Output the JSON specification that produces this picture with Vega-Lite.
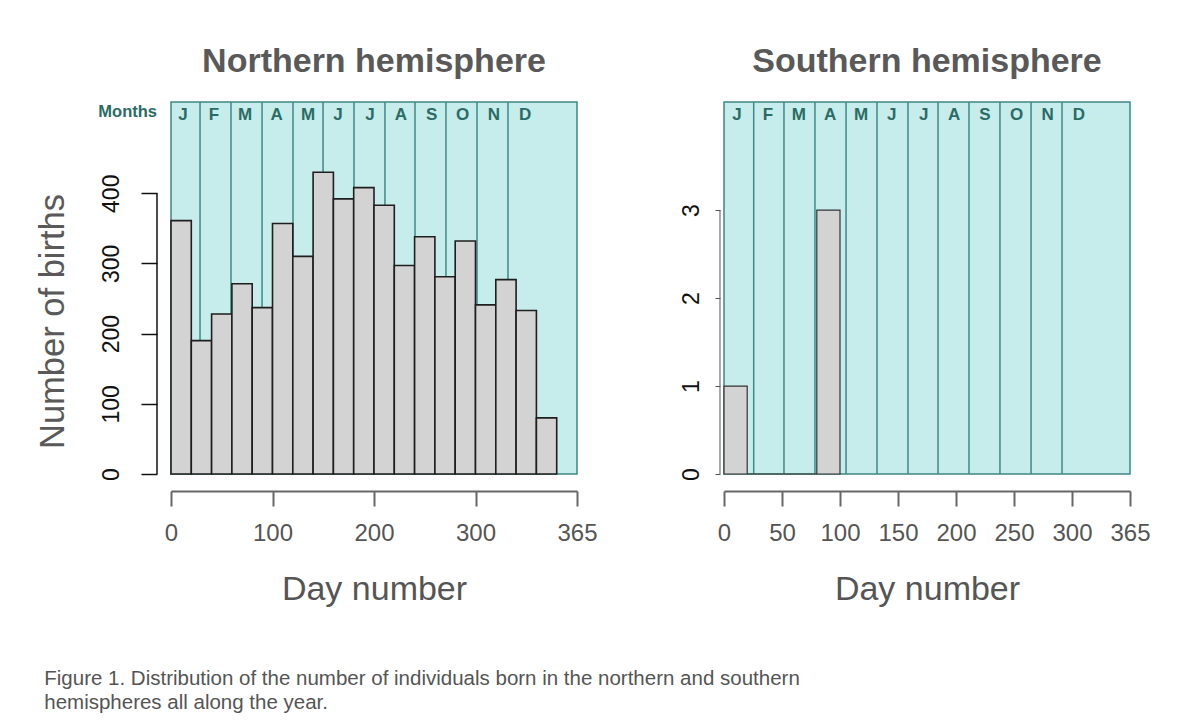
{
  "$schema": "https://vega.github.io/schema/vega-lite/v6.json",
  "background": "white",
  "padding": {"left": 34, "top": 44, "right": 5, "bottom": 5},
  "config": {
    "font": "Liberation Sans",
    "view": {"fill": "#c6eceb", "stroke": "#3f8782", "strokeWidth": 1.5}
  },
  "title": {
    "text": ["Figure 1. Distribution of the number of individuals born in the northern and southern", "hemispheres all along the year."],
    "orient": "bottom",
    "anchor": "start",
    "frame": "bounds",
    "fontSize": 20.5,
    "fontWeight": "normal",
    "color": "#555555",
    "lineHeight": 24,
    "offset": 62,
    "dx": 10
  },
  "datasets": {
    "north": [
      {"start": 0, "end": 20, "count": 361},
      {"start": 20, "end": 40, "count": 190},
      {"start": 40, "end": 60, "count": 228},
      {"start": 60, "end": 80, "count": 271},
      {"start": 80, "end": 100, "count": 237},
      {"start": 100, "end": 120, "count": 357},
      {"start": 120, "end": 140, "count": 310},
      {"start": 140, "end": 160, "count": 430},
      {"start": 160, "end": 180, "count": 392},
      {"start": 180, "end": 200, "count": 408},
      {"start": 200, "end": 220, "count": 383},
      {"start": 220, "end": 240, "count": 297},
      {"start": 240, "end": 260, "count": 338},
      {"start": 260, "end": 280, "count": 281},
      {"start": 280, "end": 300, "count": 332},
      {"start": 300, "end": 320, "count": 241},
      {"start": 320, "end": 340, "count": 277},
      {"start": 340, "end": 360, "count": 233},
      {"start": 360, "end": 380, "count": 80}
    ],
    "south": [
      {"start": 0, "end": 20, "count": 1},
      {"start": 20, "end": 40, "count": 0},
      {"start": 40, "end": 60, "count": 0},
      {"start": 60, "end": 80, "count": 0},
      {"start": 80, "end": 100, "count": 3}
    ],
    "months_n": [
      {"m": "J", "start": 0, "mid": 11.8},
      {"m": "F", "start": 28.6, "mid": 42.4},
      {"m": "M", "start": 59.1, "mid": 72.9},
      {"m": "A", "start": 89.7, "mid": 104.1},
      {"m": "M", "start": 120.2, "mid": 135},
      {"m": "J", "start": 149.8, "mid": 164.5},
      {"m": "J", "start": 180.3, "mid": 196},
      {"m": "A", "start": 210.8, "mid": 226.6},
      {"m": "S", "start": 240.4, "mid": 256.8},
      {"m": "O", "start": 270.9, "mid": 287.4},
      {"m": "N", "start": 301.5, "mid": 318.2},
      {"m": "D", "start": 332, "mid": 348.8}
    ],
    "months_s": [
      {"m": "J", "start": 0, "mid": 11.2},
      {"m": "F", "start": 25.6, "mid": 37.9},
      {"m": "M", "start": 51.7, "mid": 64.4},
      {"m": "A", "start": 78.4, "mid": 91.4},
      {"m": "M", "start": 105.2, "mid": 118.1},
      {"m": "J", "start": 131.9, "mid": 144.6},
      {"m": "J", "start": 158.6, "mid": 172.2},
      {"m": "A", "start": 184.5, "mid": 198.3},
      {"m": "S", "start": 211.2, "mid": 225},
      {"m": "O", "start": 237.9, "mid": 252.3},
      {"m": "N", "start": 264.7, "mid": 279},
      {"m": "D", "start": 291.4, "mid": 306}
    ]
  },
  "hconcat": [
    {
      "width": 406,
      "height": 372,
      "title": {"text": "Northern hemisphere", "fontSize": 34, "fontWeight": "bold", "color": "#595959", "offset": 22},
      "layer": [
        {
          "data": {"name": "months_n"},
          "transform": [{"filter": "datum.start > 0"}],
          "mark": {"type": "rule", "color": "#3d8a87", "strokeWidth": 1.5},
          "encoding": {
            "x": {
              "field": "start", "type": "quantitative",
              "scale": {"domain": [0, 400], "nice": false, "zero": false},
              "axis": {
                "title": "Day number", "values": [0, 100, 200, 300, 400],
                "labelExpr": "datum.value == 400 ? '365' : datum.label",
                "offset": 17, "tickSize": 15, "tickWidth": 2, "tickColor": "#666666",
                "domainColor": "#666666", "domainWidth": 2, "grid": false,
                "labelFontSize": 24, "labelColor": "#555555", "labelPadding": 15,
                "labelOverlap": false, "labelFlush": false,
                "titleFontSize": 34, "titleColor": "#555555", "titleFontWeight": "normal", "titlePadding": 27
              }
            }
          }
        },
        {
          "data": {"name": "north"},
          "mark": {"type": "rect", "fill": "#d3d3d3", "stroke": "#1e1e1e", "strokeWidth": 1.6},
          "encoding": {
            "x": {"field": "start", "type": "quantitative"},
            "x2": {"field": "end"},
            "y": {
              "field": "count", "type": "quantitative",
              "scale": {"domain": [0, 530], "nice": false},
              "axis": {
                "title": "Number of births", "values": [0, 100, 200, 300, 400],
                "offset": 14, "domain": false, "tickSize": 16, "tickWidth": 1.5, "tickColor": "#111111",
                "grid": false, "labelAngle": -90, "labelAlign": "center", "labelBaseline": "alphabetic",
                "labelFontSize": 23, "labelColor": "#111111", "labelPadding": 23, "labelOverlap": false,
                "titleFontSize": 34.5, "titleColor": "#595959", "titleFontWeight": "normal", "titlePadding": 30,
                "titleY": 219
              }
            },
            "y2": {"datum": 0}
          }
        },
        {
          "data": {"values": [{}]},
          "mark": {"type": "rule", "color": "#111111", "strokeWidth": 1.5},
          "encoding": {
            "x": {"datum": -13.8},
            "y": {"datum": 0},
            "y2": {"datum": 400}
          }
        },
        {
          "data": {"name": "months_n"},
          "mark": {"type": "text", "fontSize": 17, "fontWeight": "bold", "color": "#2b6b66", "baseline": "middle", "align": "center"},
          "encoding": {
            "x": {"field": "mid", "type": "quantitative"},
            "y": {"datum": 511},
            "text": {"field": "m"}
          }
        },
        {
          "data": {"values": [{}]},
          "mark": {"type": "text", "text": "Months", "fontSize": 16.5, "fontWeight": "bold", "color": "#2b6b66", "baseline": "middle", "align": "right", "dx": -14},
          "encoding": {
            "x": {"datum": 0},
            "y": {"datum": 516}
          }
        }
      ]
    },
    {
      "width": 406,
      "height": 372,
      "title": {"text": "Southern hemisphere", "fontSize": 34, "fontWeight": "bold", "color": "#595959", "offset": 22},
      "layer": [
        {
          "data": {"name": "months_s"},
          "transform": [{"filter": "datum.start > 0"}],
          "mark": {"type": "rule", "color": "#3d8a87", "strokeWidth": 1.5},
          "encoding": {
            "x": {
              "field": "start", "type": "quantitative",
              "scale": {"domain": [0, 350], "nice": false, "zero": false},
              "axis": {
                "title": "Day number", "values": [0, 50, 100, 150, 200, 250, 300, 350],
                "labelExpr": "datum.value == 350 ? '365' : datum.label",
                "offset": 17, "tickSize": 15, "tickWidth": 2, "tickColor": "#666666",
                "domainColor": "#666666", "domainWidth": 2, "grid": false,
                "labelFontSize": 24, "labelColor": "#555555", "labelPadding": 15,
                "labelOverlap": false, "labelFlush": false,
                "titleFontSize": 34, "titleColor": "#555555", "titleFontWeight": "normal", "titlePadding": 27
              }
            }
          }
        },
        {
          "data": {"name": "south"},
          "mark": {"type": "rect", "fill": "#d3d3d3", "stroke": "#333333", "strokeWidth": 1.2},
          "encoding": {
            "x": {"field": "start", "type": "quantitative"},
            "x2": {"field": "end"},
            "y": {
              "field": "count", "type": "quantitative",
              "scale": {"domain": [0, 4.23], "nice": false},
              "axis": {
                "title": null, "values": [0, 1, 2, 3], "format": "d",
                "offset": 4, "domain": false, "tickSize": 5, "tickWidth": 1, "tickColor": "#555555",
                "grid": false, "labelAngle": -90, "labelAlign": "center", "labelBaseline": "alphabetic",
                "labelFontSize": 23, "labelColor": "#111111", "labelPadding": 17, "labelOverlap": false
              }
            },
            "y2": {"datum": 0}
          }
        },
        {
          "data": {"values": [{}]},
          "mark": {"type": "rule", "color": "#555555", "strokeWidth": 1},
          "encoding": {
            "x": {"datum": -3.45},
            "y": {"datum": 0},
            "y2": {"datum": 3}
          }
        },
        {
          "data": {"name": "months_s"},
          "mark": {"type": "text", "fontSize": 17, "fontWeight": "bold", "color": "#2b6b66", "baseline": "middle", "align": "center"},
          "encoding": {
            "x": {"field": "mid", "type": "quantitative"},
            "y": {"datum": 4.08},
            "text": {"field": "m"}
          }
        }
      ]
    }
  ],
  "spacing": 81
}
